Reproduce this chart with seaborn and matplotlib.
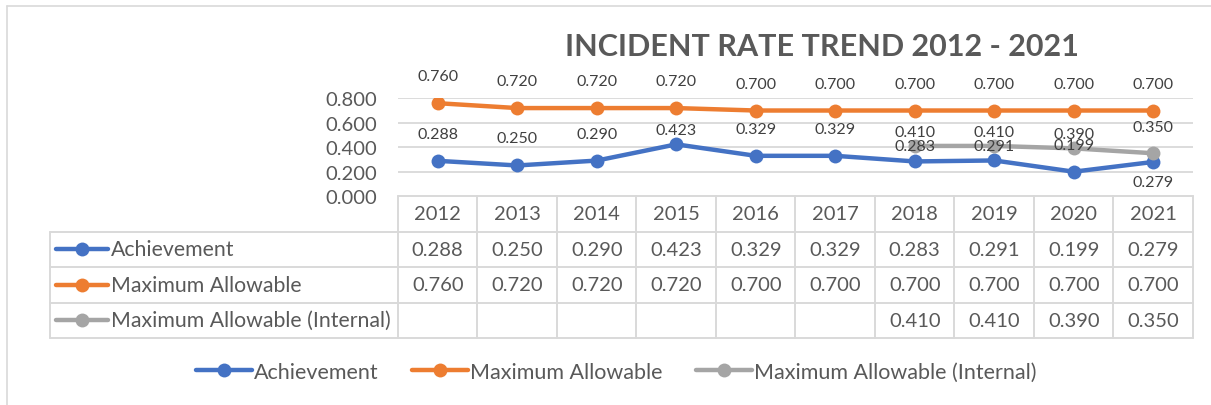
import numpy as np
import pandas as pd
import matplotlib
matplotlib.use("Agg")
import matplotlib.pyplot as plt
import seaborn as sns
from matplotlib.lines import Line2D

years = [2012, 2013, 2014, 2015, 2016, 2017, 2018, 2019, 2020, 2021]
achievement = [0.288, 0.250, 0.290, 0.423, 0.329, 0.329, 0.283, 0.291, 0.199, 0.279]
max_allowable = [0.760, 0.720, 0.720, 0.720, 0.700, 0.700, 0.700, 0.700, 0.700, 0.700]
max_internal = [np.nan, np.nan, np.nan, np.nan, np.nan, np.nan, 0.410, 0.410, 0.390, 0.350]
series_names = ["Achievement", "Maximum Allowable", "Maximum Allowable (Internal)"]
y_ticks = [0.0, 0.2, 0.4, 0.6, 0.8]
title = "INCIDENT RATE TREND 2012 - 2021"

colors = ["#4472C4", "#ED7D31", "#A5A5A5"]
# label offsets in pixels (positive = above)
label_offsets = [
    [27, 27, 27, 14, 27, 27, 15, 14, 27, -20],
    [27] * 10,
    [0, 0, 0, 0, 0, 0, 14, 14, 14, 26],
]

sns.set_theme(style="white")
FONT = ["Lato", "DejaVu Sans"]
plt.rcParams["font.family"] = FONT

W, H = 1211, 406
fig = plt.figure(figsize=(W / 100, H / 100), dpi=100)

def fx(px):
    return px / W

def fy(py):
    return 1 - py / H

ax_l, ax_r, ax_t, ax_b = 398, 1193, 99.3, 197
ax = fig.add_axes([fx(ax_l), fy(ax_b), fx(ax_r - ax_l), (ax_b - ax_t) / H])

all_series = [achievement, max_allowable, max_internal]
for name, vals, col in zip(series_names, all_series, colors):
    df = pd.DataFrame({"year": years, "value": vals}).dropna()
    sns.lineplot(data=df, x="year", y="value", ax=ax, color=col, marker="o",
                 markersize=10, linewidth=3.2, markeredgewidth=0, label=name,
                 legend=False)

ax.set_xlim(years[0] - 0.5, years[-1] + 0.5)
ax.set_ylim(y_ticks[0], y_ticks[-1])
ax.set_yticks(y_ticks)
ax.set_yticklabels([f"{t:.3f}" for t in y_ticks], color="#595959", fontsize=14.5)
ax.tick_params(axis="y", length=0, pad=15)
ax.set_xticks([])
ax.set_xlabel("")
ax.set_ylabel("")
for s in ax.spines.values():
    s.set_visible(False)
for t in y_ticks[1:]:
    ax.axhline(t, color="#D9D9D9", lw=1.3, zorder=0)

# data labels
for vals, offs in zip(all_series, label_offsets):
    for x, v, o in zip(years, vals, offs):
        if np.isnan(v):
            continue
        ax.annotate(f"{v:.3f}", (x, v), xytext=(0, o * 0.72), textcoords="offset points",
                    ha="center", va="center", fontsize=11.5, color="#404040",
                    annotation_clip=False)

# data table
col_w = (ax_r - ax_l) / len(years)
tab_left_px, tab_bottom_px = 50, 339
tab = fig.add_axes([fx(tab_left_px), fy(tab_bottom_px), fx(ax_r - tab_left_px),
                    (tab_bottom_px - ax_b) / H])
x0 = years[0] - 0.5 - (ax_l - tab_left_px) / col_w
x1 = years[-1] + 0.5
tab.set_xlim(x0, x1)
tab.set_ylim(4, 0)
tab.axis("off")
gc = "#D9D9D9"
lw = 1.4
xa, xb = years[0] - 0.5, years[-1] + 0.5
tab.plot([xa, xb], [0, 0], color=gc, lw=lw, clip_on=False)
for r in [1, 2, 3, 4]:
    tab.plot([x0, xb], [r, r], color=gc, lw=lw, clip_on=False)
tab.plot([x0, x0], [1, 4], color=gc, lw=lw, clip_on=False)
for i in range(len(years) + 1):
    tab.plot([xa + i, xa + i], [0, 4], color=gc, lw=lw, clip_on=False)
tc = "#595959"
for x in years:
    tab.text(x, 0.5, str(x), ha="center", va="center", fontsize=14.5, color=tc)
for r, (name, vals, col) in enumerate(zip(series_names, all_series, colors), start=1):
    for x, v in zip(years, vals):
        if not np.isnan(v):
            tab.text(x, r + 0.5, f"{v:.3f}", ha="center", va="center", fontsize=14.5, color=tc)
    ix0 = x0 + 6 / col_w
    ix1 = x0 + 58 / col_w
    tab.plot([ix0, ix1], [r + 0.5, r + 0.5], color=col, lw=3.2, solid_capstyle="round",
             clip_on=False)
    tab.plot([(ix0 + ix1) / 2], [r + 0.5], marker="o", color=col, markersize=10,
             markeredgewidth=0, clip_on=False)
    tab.text(x0 + 61 / col_w, r + 0.5, name, ha="left", va="center", fontsize=15.3, color=tc)

# legend
handles = [Line2D([0], [0], color=c, lw=3.2, marker="o", markersize=10, markeredgewidth=0)
           for c in colors]
fig.legend(handles, series_names, loc="center", bbox_to_anchor=(fx(616), fy(373)), ncol=3,
           frameon=False, fontsize=15.5, handlelength=2.6, columnspacing=1.55, handletextpad=0.1,
           labelcolor=tc)

fig.text(fx(822), fy(47), title, ha="center", va="center", fontsize=22, fontweight="bold",
         color="#595959")

# chart border
fig.add_artist(Line2D([fx(7), 1], [fy(7), fy(7)], color="#D9D9D9", lw=1.2))
fig.add_artist(Line2D([fx(7), fx(7)], [fy(7), 0], color="#D9D9D9", lw=1.2))

fig.savefig("out.png", dpi=100, facecolor="white")
